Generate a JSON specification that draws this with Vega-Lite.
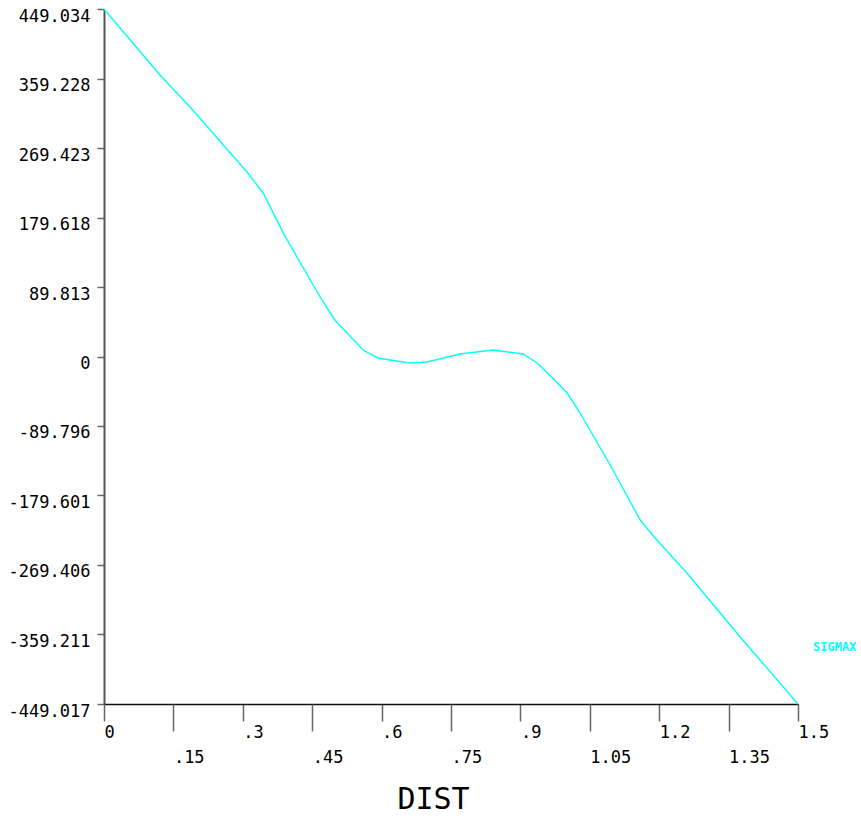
{
  "$schema": "https://vega.github.io/schema/vega-lite/v6.json",
  "width": 694,
  "height": 695,
  "autosize": {"type": "none"},
  "padding": {"left": 104, "top": 9, "right": 63, "bottom": 114},
  "background": "white",
  "config": {"view": {"stroke": null}, "axis": {"grid": false}},
  "data": {
    "values": [
      {"dist": 0, "sigmax": 449.034, "series": "SIGMAX"},
      {"dist": 0.121, "sigmax": 363.8, "series": "SIGMAX"},
      {"dist": 0.186, "sigmax": 322.4, "series": "SIGMAX"},
      {"dist": 0.309, "sigmax": 238.4, "series": "SIGMAX"},
      {"dist": 0.344, "sigmax": 211.3, "series": "SIGMAX"},
      {"dist": 0.387, "sigmax": 160.0, "series": "SIGMAX"},
      {"dist": 0.467, "sigmax": 76.9, "series": "SIGMAX"},
      {"dist": 0.499, "sigmax": 47.2, "series": "SIGMAX"},
      {"dist": 0.56, "sigmax": 8.4, "series": "SIGMAX"},
      {"dist": 0.592, "sigmax": -1.9, "series": "SIGMAX"},
      {"dist": 0.661, "sigmax": -8.4, "series": "SIGMAX"},
      {"dist": 0.698, "sigmax": -7.1, "series": "SIGMAX"},
      {"dist": 0.769, "sigmax": 3.2, "series": "SIGMAX"},
      {"dist": 0.841, "sigmax": 8.4, "series": "SIGMAX"},
      {"dist": 0.906, "sigmax": 3.2, "series": "SIGMAX"},
      {"dist": 0.936, "sigmax": -8.4, "series": "SIGMAX"},
      {"dist": 0.97, "sigmax": -27.8, "series": "SIGMAX"},
      {"dist": 1.001, "sigmax": -47.2, "series": "SIGMAX"},
      {"dist": 1.029, "sigmax": -73.0, "series": "SIGMAX"},
      {"dist": 1.094, "sigmax": -140.2, "series": "SIGMAX"},
      {"dist": 1.159, "sigmax": -211.3, "series": "SIGMAX"},
      {"dist": 1.191, "sigmax": -234.5, "series": "SIGMAX"},
      {"dist": 1.26, "sigmax": -279.7, "series": "SIGMAX"},
      {"dist": 1.375, "sigmax": -362.4, "series": "SIGMAX"},
      {"dist": 1.5, "sigmax": -449.017, "series": "SIGMAX"}
    ]
  },
  "layer": [
    {
      "mark": {"type": "line", "strokeWidth": 1.4},
      "encoding": {
        "x": {
          "field": "dist",
          "type": "quantitative",
          "scale": {"domain": [0, 1.5], "nice": false, "zero": false},
          "axis": {
            "orient": "bottom",
            "values": [0, 0.3, 0.6, 0.9, 1.2, 1.5],
            "tickSize": 17,
            "tickColor": "#666666",
            "tickWidth": 1.5,
            "domainColor": "#111111",
            "domainWidth": 1.5,
            "labelAlign": "left",
            "labelBaseline": "top",
            "labelPadding": 3,
            "labelFont": "DejaVu Sans Mono",
            "labelFontSize": 17,
            "labelColor": "#000000",
            "labelFlush": false,
            "labelOverlap": false,
            "labelBound": false,
            "labelExpr": "datum.value > 0 && datum.value < 1 ? slice(format(datum.value, '~g'), 1) : format(datum.value, '~g')",
            "title": "DIST",
            "titleFont": "DejaVu Sans Mono",
            "titleFontSize": 30,
            "titleFontWeight": "normal",
            "titleColor": "#000000",
            "titleX": 329,
            "titleY": 104,
            "titleAlign": "center",
            "titleBaseline": "alphabetic"
          }
        },
        "y": {
          "field": "sigmax",
          "type": "quantitative",
          "scale": {"domain": [-449.017, 449.034], "nice": false, "zero": false},
          "axis": {
            "values": [449.034, 359.228, 269.423, 179.618, 89.813, 0, -89.796, -179.601, -269.406, -359.211, -449.017],
            "tickSize": 7,
            "tickColor": "#666666",
            "tickWidth": 1.5,
            "domainColor": "#555555",
            "domainWidth": 2,
            "labelAlign": "right",
            "labelBaseline": "top",
            "labelPadding": 7,
            "labelOffset": -1,
            "labelFont": "DejaVu Sans Mono",
            "labelFontSize": 17,
            "labelColor": "#000000",
            "labelFlush": false,
            "labelOverlap": false,
            "labelBound": false,
            "labelExpr": "datum.value == 0 ? '0' : replace(format(datum.value, '.3f'), '−', '-')",
            "title": null
          }
        },
        "color": {
          "field": "series",
          "type": "nominal",
          "scale": {"range": ["#00FFFF"]},
          "legend": {
            "orient": "none",
            "legendX": 697,
            "legendY": 632,
            "title": null,
            "symbolSize": 0,
            "symbolOpacity": 0,
            "symbolStrokeWidth": 0,
            "labelOffset": 0,
            "padding": 0,
            "labelLimit": 200,
            "labelColor": "#00FFFF",
            "labelFont": "DejaVu Sans Mono",
            "labelFontSize": 12,
            "labelFontWeight": "bold"
          }
        }
      }
    },
    {
      "mark": {"type": "point", "opacity": 0},
      "encoding": {
        "x": {
          "field": "dist",
          "type": "quantitative",
          "scale": {"domain": [0, 1.5], "nice": false, "zero": false},
          "axis": {
            "orient": "bottom",
            "values": [0.15, 0.45, 0.75, 1.05, 1.35],
            "domain": false,
            "tickSize": 27,
            "tickColor": "#666666",
            "tickWidth": 1.5,
            "labelAlign": "left",
            "labelBaseline": "top",
            "labelPadding": 18,
            "labelFont": "DejaVu Sans Mono",
            "labelFontSize": 17,
            "labelColor": "#000000",
            "labelFlush": false,
            "labelOverlap": false,
            "labelBound": false,
            "labelExpr": "datum.value > 0 && datum.value < 1 ? slice(format(datum.value, '~g'), 1) : format(datum.value, '~g')",
            "title": null
          }
        }
      }
    }
  ],
  "resolve": {"axis": {"x": "independent"}}
}
